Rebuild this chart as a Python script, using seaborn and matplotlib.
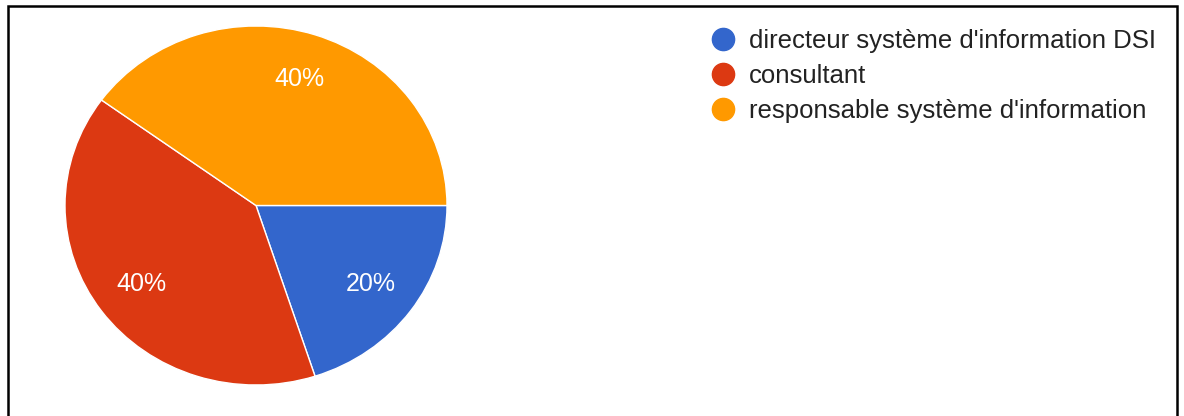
import matplotlib
matplotlib.use("Agg")
import matplotlib.pyplot as plt
from matplotlib.lines import Line2D
from matplotlib.patches import Rectangle
import seaborn as sns

# Répartition des fonctions des répondants
categories = [
    "directeur système d'information DSI",
    "consultant",
    "responsable système d'information",
]
shares = [20, 40, 40]
colors = ["#3366CC", "#DC3912", "#FF9900"]

sns.set_theme(style="white")
plt.rcParams["font.family"] = ["Liberation Sans", "DejaVu Sans"]

W, H = 1184, 416
fig = plt.figure(figsize=(W / 100, H / 100), dpi=100)
fig.patch.set_facecolor("white")

# Pie area (slightly wider than tall)
left, right, top, bottom = 65, 447, 26, 385
ax = fig.add_axes([left / W, (H - bottom) / H, (right - left) / W, (bottom - top) / H])
palette = sns.color_palette(colors)
wedges, texts, autotexts = ax.pie(
    shares,
    colors=palette,
    startangle=0,
    counterclock=False,
    radius=1.0,
    autopct=lambda p: f"{p:.0f}%",
    pctdistance=0.74,
    wedgeprops=dict(edgecolor="white", linewidth=1.0),
    textprops=dict(color="white", fontsize=18),
)
ax.set_aspect("auto")
ax.set_xlim(-1, 1)
ax.set_ylim(-1, 1)
ax.axis("off")

# Legend with round markers
handles = [
    Line2D([], [], marker="o", linestyle="", markersize=16,
           markerfacecolor=c, markeredgecolor=c)
    for c in colors
]
fig.legend(
    handles, categories,
    loc="upper left",
    bbox_to_anchor=(711 / W, 1 - 29 / H),
    frameon=False,
    fontsize=18.5,
    labelcolor="#222222",
    handlelength=0.97,
    handletextpad=0.52,
    labelspacing=0.42,
    borderpad=0,
    borderaxespad=0,
)

# Outer frame
fig.add_artist(Rectangle((7.5 / W, -0.05), (1177 - 7.5) / W, 1.05 - 6 / H,
                         transform=fig.transFigure, fill=False,
                         edgecolor="black", linewidth=1.8))

fig.savefig("out.png", dpi=100, facecolor="white")
